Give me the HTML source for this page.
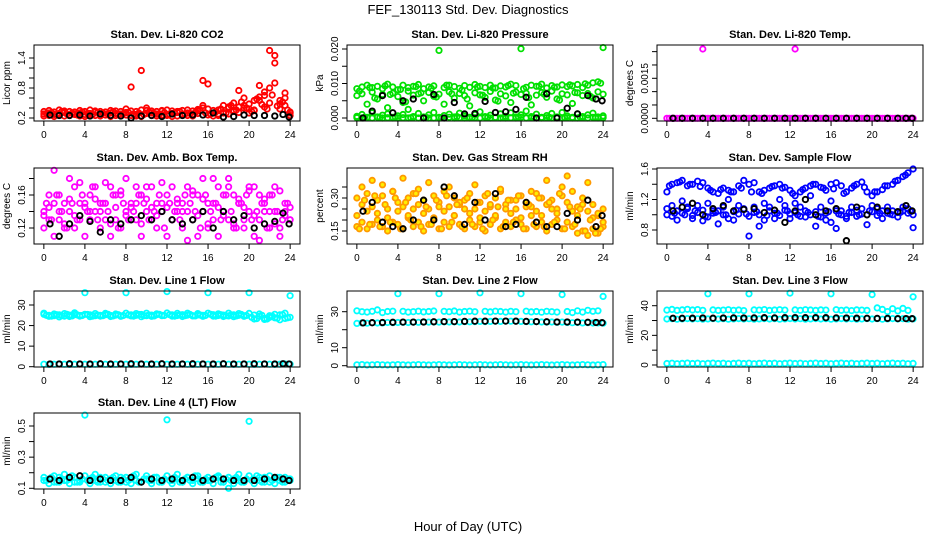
<!DOCTYPE html>
<html><head><meta charset="utf-8">
<style>
html,body{margin:0;padding:0;background:#fff;}
svg{display:block;font-family:"Liberation Sans",sans-serif;}
</style></head>
<body>
<svg id="chart" width="936" height="540" viewBox="0 0 936 540">
<text x="468" y="14" text-anchor="middle" font-size="13">FEF_130113  Std. Dev. Diagnostics</text>
<text x="468" y="531" text-anchor="middle" font-size="13">Hour of Day (UTC)</text>
</svg>
<script>
// ---- data ----
const hours = [0,0.5,1,1.5,2,2.5,3,3.5,4,4.5,5,5.5,6,6.5,7,7.5,8,8.5,9,9.5,10,10.5,11,11.5,12,12.5,13,13.5,14,14.5,15,15.5,16,16.5,17,17.5,18,18.5,19,19.5,20,20.5,21,21.5,22,22.5,23,23.5,24];
const hoursB = [0.25,0.75,1.25,1.75,2.25,2.75,3.25,3.75,4.25,4.75,5.25,5.75,6.25,6.75,7.25,7.75,8.25,8.75,9.25,9.75,10.25,10.75,11.25,11.75,12.25,12.75,13.25,13.75,14.25,14.75,15.25,15.75,16.25,16.75,17.25,17.75,18.25,18.75,19.25,19.75,20.25,20.75,21.25,21.75,22.25,22.75,23.25,23.75];
const blackHours = [0.6,1.5,2.5,3.5,4.5,5.5,6.5,7.5,8.5,9.5,10.5,11.5,12.5,13.5,14.5,15.5,16.5,17.5,18.5,19.5,20.5,21.5,22.5,23.3,23.9];
const xTicks = [0,4,8,12,16,20,24];

const co2A = [0.28,0.30,0.27,0.29,0.31,0.26,0.28,0.30,0.27,0.29,0.32,0.28,0.26,0.30,0.29,0.28,0.31,0.82,0.27,1.15,0.29,0.30,0.28,0.34,0.27,0.29,0.31,0.28,0.30,0.27,0.29,0.95,0.88,0.30,0.28,0.31,0.42,0.33,0.75,0.45,0.38,0.36,0.55,0.72,0.50,1.30,0.48,0.60,0.32];
const co2B = [0.24,0.25,0.23,0.26,0.24,0.25,0.27,0.24,0.23,0.26,0.25,0.24,0.26,0.23,0.25,0.24,0.26,0.25,0.24,0.23,0.35,0.25,0.24,0.26,0.25,0.23,0.24,0.26,0.25,0.24,0.34,0.45,0.26,0.24,0.25,0.30,0.28,0.35,0.31,0.40,0.30,0.35,0.85,0.65,1.55,0.90,0.38,0.70,0.25];
const co2C = [0.33,0.35,0.32,0.36,0.34,0.33,0.32,0.35,0.33,0.36,0.34,0.33,0.32,0.35,0.34,0.33,0.38,0.34,0.33,0.36,0.40,0.34,0.33,0.35,0.36,0.34,0.33,0.35,0.36,0.34,0.37,0.40,0.38,0.35,0.36,0.45,0.40,0.50,0.42,0.60,0.48,0.55,0.62,0.42,0.80,1.45,0.55,0.45,0.30];
const co2D = [0.29,0.31,0.27,0.33,0.28,0.30,0.26,0.32,0.29,0.27,0.31,0.30,0.28,0.33,0.27,0.29,0.31,0.28,0.30,0.27,0.32,0.29,0.28,0.31,0.27,0.30,0.33,0.28,0.29,0.31,0.35,0.30,0.28,0.32,0.38,0.30,0.45,0.36,0.52,0.40,0.33,0.58,0.47,0.38,0.66,0.44,0.52,0.36];
const co2K = [0.26,0.25,0.25,0.26,0.24,0.28,0.25,0.24,0.20,0.24,0.25,0.23,0.28,0.25,0.26,0.26,0.30,0.22,0.23,0.26,0.25,0.25,0.24,0.27,0.22];

const presA = [0.0085,0.009,0.0095,0.0088,0.0092,0.0085,0.0098,0.009,0.0082,0.0095,0.0088,0.0092,0.0097,0.0085,0.009,0.0093,0.0196,0.0088,0.0095,0.0091,0.0086,0.0094,0.0089,0.0097,0.0092,0.0088,0.0095,0.0087,0.0093,0.009,0.0098,0.0094,0.0201,0.0089,0.0095,0.0092,0.0098,0.0087,0.0094,0.009,0.0096,0.0091,0.0093,0.0097,0.0088,0.0095,0.0102,0.0105,0.0204];
const presB = [0.0065,0.007,0.004,0.0075,0.0055,0.0068,0.003,0.0072,0.0062,0.0045,0.0078,0.0066,0.007,0.005,0.0074,0.0063,0.0069,0.004,0.0076,0.0058,0.0071,0.0065,0.0035,0.0073,0.0067,0.006,0.0077,0.0052,0.007,0.0064,0.0045,0.0075,0.0068,0.0072,0.0038,0.0066,0.0074,0.006,0.0078,0.0055,0.007,0.0067,0.0042,0.0073,0.0065,0.0071,0.0058,0.0076,0.0069];
const presC = [0.0005,0.001,0.0002,0.0015,0.0003,0.0008,0.0012,0.0002,0.0006,0.001,0.0025,0.0004,0.0013,0.0003,0.0009,0.0016,0.0002,0.0007,0.0011,0.0003,0.0014,0.0006,0.0002,0.001,0.0018,0.0004,0.0008,0.0002,0.0012,0.0005,0.0015,0.0003,0.0009,0.002,0.0004,0.0011,0.0002,0.0007,0.0013,0.0003,0.0016,0.0006,0.0002,0.0012,0.0004,0.0009,0.0014,0.0003,0.0006];
const presD = [0.0001,0,0.0001,0,0.0002,0,0.0001,0,0,0.0001,0,0.0002,0,0.0001,0,0,0.0001,0,0.0002,0,0.0001,0,0,0.0001,0,0.0002,0,0.0001,0,0,0.0001,0,0.0002,0,0.0001,0,0,0.0001,0,0.0002,0,0.0001,0,0,0.0001,0,0.0002,0,0.0001];
const presE = [0.0078,0.0002,0.0088,0.0058,0.0001,0.0093,0.0068,0.0003,0.0083,0.0047,0.0001,0.0091,0.0073,0.0002,0.0086,0.0061,0.0001,0.0095,0.0070,0.0004,0.0081,0.0055,0.0001,0.0090,0.0066,0.0002,0.0087,0.0049,0.0001,0.0094,0.0072,0.0003,0.0085,0.0059,0.0001,0.0092,0.0069,0.0002,0.0089,0.0052,0.0001,0.0096,0.0074,0.0003,0.0099,0.0063,0.0001,0.0101];
const presK = [0,0.002,0.0065,0.0015,0.005,0.0055,0,0.0068,0,0.0045,0.0012,0.0013,0.0048,0.0016,0.0018,0.0025,0.006,0,0.007,0,0.0028,0.0012,0.0065,0.0055,0.005];

const tempA = [0,0,0,0,0,0,0,0.0026,0,0,0,0,0,0,0,0,0,0,0,0,0,0,0,0,0,0.0026,0,0,0,0,0,0,0,0,0,0,0,0,0,0,0,0,0,0,0,0,0,0,0];
const tempB = [0,0,0,0,0,0,0,0,0,0,0,0,0,0,0,0,0,0,0,0,0,0,0,0,0,0,0,0,0,0,0,0,0,0,0,0,0,0,0,0,0,0,0,0,0,0,0,0];
const tempK = [0,0,0,0,0,0,0,0,0,0,0,0,0,0,0,0,0,0,0,0,0,0,0,0,0];

const ambA = [0.14,0.13,0.15,0.16,0.12,0.14,0.17,0.13,0.15,0.16,0.14,0.12,0.15,0.17,0.13,0.16,0.14,0.15,0.13,0.16,0.14,0.17,0.12,0.15,0.16,0.13,0.14,0.15,0.17,0.13,0.16,0.14,0.12,0.15,0.17,0.14,0.13,0.16,0.15,0.12,0.14,0.17,0.13,0.15,0.16,0.14,0.12,0.15,0.13];
const ambB = [0.12,0.16,0.11,0.13,0.15,0.18,0.12,0.15,0.11,0.14,0.17,0.15,0.13,0.11,0.16,0.12,0.18,0.13,0.15,0.11,0.17,0.13,0.15,0.14,0.11,0.17,0.15,0.12,0.14,0.16,0.11,0.18,0.15,0.13,0.11,0.16,0.18,0.12,0.15,0.13,0.17,0.11,0.16,0.14,0.12,0.17,0.11,0.14,0.13];
const ambC = [0.135,0.145,0.19,0.14,0.125,0.155,0.135,0.175,0.145,0.13,0.155,0.14,0.175,0.125,0.145,0.165,0.135,0.145,0.17,0.125,0.155,0.145,0.135,0.175,0.145,0.13,0.155,0.14,0.105,0.165,0.135,0.155,0.125,0.18,0.145,0.135,0.17,0.125,0.155,0.145,0.165,0.135,0.105,0.155,0.14,0.125,0.165,0.135,0.145];
const ambD = [0.15,0.13,0.16,0.14,0.12,0.15,0.13,0.16,0.14,0.17,0.13,0.15,0.14,0.16,0.12,0.15,0.13,0.14,0.16,0.15,0.13,0.14,0.16,0.12,0.15,0.14,0.13,0.16,0.15,0.14,0.12,0.16,0.14,0.15,0.13,0.16,0.14,0.12,0.15,0.16,0.13,0.14,0.15,0.12,0.16,0.14,0.13,0.15];
const ambK = [0.125,0.11,0.125,0.135,0.128,0.115,0.13,0.125,0.13,0.135,0.13,0.14,0.13,0.125,0.13,0.14,0.12,0.14,0.13,0.135,0.12,0.125,0.128,0.138,0.125];

const rhA = [0.17,0.19,0.16,0.18,0.2,0.17,0.15,0.19,0.18,0.16,0.21,0.17,0.19,0.15,0.18,0.2,0.16,0.19,0.17,0.22,0.18,0.16,0.2,0.17,0.19,0.15,0.18,0.21,0.16,0.19,0.17,0.2,0.18,0.16,0.22,0.17,0.19,0.15,0.18,0.2,0.16,0.19,0.17,0.14,0.15,0.13,0.16,0.14,0.17];
const rhB = [0.3,0.27,0.32,0.26,0.29,0.31,0.25,0.33,0.28,0.26,0.3,0.32,0.27,0.29,0.25,0.31,0.28,0.33,0.26,0.3,0.27,0.29,0.32,0.25,0.28,0.31,0.26,0.3,0.33,0.27,0.29,0.25,0.31,0.28,0.26,0.32,0.3,0.27,0.29,0.25,0.31,0.28,0.33,0.26,0.3,0.24,0.27,0.22,0.25];
const rhC = [0.22,0.35,0.24,0.38,0.23,0.36,0.21,0.33,0.24,0.39,0.22,0.25,0.34,0.23,0.37,0.21,0.26,0.24,0.35,0.22,0.28,0.25,0.23,0.36,0.21,0.24,0.27,0.22,0.34,0.25,0.23,0.29,0.21,0.26,0.33,0.24,0.22,0.38,0.25,0.23,0.35,0.4,0.24,0.22,0.27,0.37,0.21,0.23,0.19];
const rhD = [0.16,0.29,0.18,0.31,0.17,0.27,0.19,0.3,0.16,0.28,0.2,0.32,0.17,0.26,0.18,0.29,0.16,0.31,0.19,0.27,0.17,0.3,0.18,0.28,0.16,0.32,0.2,0.26,0.17,0.29,0.19,0.31,0.16,0.27,0.18,0.3,0.17,0.28,0.19,0.32,0.16,0.26,0.18,0.25,0.15,0.2,0.14,0.16];
const rhK = [0.24,0.28,0.19,0.17,0.16,0.2,0.29,0.2,0.35,0.31,0.18,0.28,0.2,0.32,0.17,0.18,0.28,0.19,0.17,0.17,0.23,0.2,0.29,0.17,0.22];

const sfA = [1.3,1.4,1.42,1.45,1.38,1.4,1.44,1.42,1.35,1.3,1.28,1.35,1.32,1.3,1.38,1.45,1.4,1.42,1.3,1.32,1.35,1.38,1.4,1.36,1.32,1.25,1.3,1.35,1.38,1.4,1.36,1.32,1.4,1.42,1.38,1.3,1.35,1.4,1.43,1.3,1.25,1.3,1.33,1.38,1.4,1.45,1.5,1.55,1.6];
const sfB = [1.0,0.98,1.05,1.02,1.08,0.99,1.03,1.06,0.97,1.02,1.05,1.0,0.95,1.04,1.01,1.07,0.98,1.03,1.0,0.93,1.05,1.02,0.99,1.06,1.01,1.03,0.98,1.05,1.0,1.04,0.97,1.02,0.9,1.05,1.0,0.98,1.03,1.06,1.01,1.0,1.04,0.99,1.05,1.02,1.0,1.03,1.05,1.02,1.0];
const sfC = [1.08,1.12,0.93,1.18,1.1,0.95,1.12,0.92,1.15,1.05,0.88,1.1,1.2,0.93,1.12,1.08,0.72,1.1,0.85,1.15,1.1,0.95,1.2,1.12,0.95,1.15,1.1,0.97,1.25,0.85,1.1,0.93,1.18,0.82,1.05,0.95,1.1,0.98,1.08,0.87,1.12,1.08,0.95,1.1,1.05,0.97,1.1,1.08,0.83];
const sfD = [1.38,1.02,1.43,1.0,1.4,1.05,1.37,0.98,1.32,1.03,1.33,1.0,1.3,1.06,1.35,1.01,1.3,1.04,1.28,0.99,1.37,1.02,1.35,1.05,1.28,1.0,1.33,1.03,1.4,0.98,1.35,1.04,1.34,1.01,1.28,1.03,1.38,1.0,1.36,1.05,1.3,1.02,1.38,1.01,1.44,1.03,1.52,1.04];
const sfK = [1.05,1.1,1.15,1.0,1.08,1.12,1.05,1.07,1.08,1.03,1.06,0.9,1.05,1.2,1.0,1.05,1.08,0.66,1.1,1.0,1.1,1.05,1.04,1.12,1.05];

const l1A = [25.5,25,24.8,25.2,24.6,25.1,25.4,24.9,36,25.2,24.8,25,25.3,24.9,25.1,24.7,36,25.2,25,25.4,24.8,25.1,25.3,25,36.5,25.2,24.9,25.3,25.1,24.8,25.2,25,36,25.3,24.9,25.1,24.7,25.2,25,24.8,36,25.1,24.5,23.5,24.8,23.8,25.2,23.5,34.5];
const l1B = [26,24.5,25.6,24.2,25.8,24.4,26.2,24.6,25.5,24.3,25.8,24.6,25.9,24.4,25.6,24.5,26,24.7,25.8,24.3,26,24.5,25.7,24.8,26.1,24.6,25.9,24.4,26,24.7,25.8,24.5,26,24.6,25.7,24.4,26,24.3,25.8,24.5,25.9,23.2,25.6,23,24,25.5,22.8,26,24];
const l1C = [25,24.6,25.3,24.8,25.5,24.7,25.2,24.9,25.4,24.6,25.1,24.8,25.5,24.7,25.3,24.9,25.2,24.6,25.4,24.8,25.1,24.7,25.5,24.9,25.3,24.6,25.2,24.8,25.4,24.7,25.1,24.9,25.5,24.6,25.3,24.8,25.2,24.7,25.4,24.9,24,23.4,25,23.2,24.6,23.6,25.3,23.8];
const l1Z = [1.2,1.1,1.2,1.3,1.2,1.1,1.2,1.3,1.2,1.1,1.2,1.3,1.2,1.1,1.2,1.3,1.2,1.1,1.2,1.3,1.2,1.1,1.2,1.3,1.2,1.1,1.2,1.3,1.2,1.1,1.2,1.3,1.2,1.1,1.2,1.3,1.2,1.1,1.2,1.3,1.2,1.1,1.2,1.3,1.2,1.1,1.2,1.3,1.2];
const l1K = [1.3,1.3,1.4,1.3,1.3,1.4,1.3,1.3,1.4,1.3,1.3,1.4,1.3,1.3,1.4,1.3,1.3,1.4,1.3,1.3,1.4,1.3,1.3,1.4,1.3];

const l2A = [30.5,30,29.8,30.2,31,29.5,30.1,30.3,40,30.2,29.8,30,30.3,29.9,30.1,30.4,40,30.2,30,30.4,29.8,30.1,30.3,30,40.5,30.2,29.9,30.3,30.1,29.8,30.2,30,40,30.3,29.9,30.1,29.7,30.2,30,29.8,39.5,30.1,29.5,30.5,29.8,30.8,30.2,30.5,38.5];
const l2B = [23.5,23.8,23.6,23.9,23.7,23.8,24,23.9,24,24.1,24,24.2,24.1,24.3,24.2,24.3,24.2,24.4,24.3,24.4,24.3,24.5,24.4,24.5,24.6,24.5,24.6,24.7,24.6,24.8,24.7,24.8,24.6,24.5,24.4,24.5,24.3,24.2,24.3,24.1,24.2,24,23.9,24,23.8,23.9,23.7,23.8,23.6];
const l2Z = [0.5,0.6,0.4,0.5,0.6,0.5,0.4,0.5,0.6,0.5,0.4,0.5,0.6,0.5,0.4,0.5,0.6,0.5,0.4,0.5,0.6,0.5,0.4,0.5,0.6,0.5,0.4,0.5,0.6,0.5,0.4,0.5,0.6,0.5,0.4,0.5,0.6,0.5,0.4,0.5,0.6,0.5,0.4,0.5,0.6,0.5,0.4,0.5,0.6];
const l2K = [23.8,23.9,24,24.1,24.2,24.2,24.3,24.4,24.5,24.5,24.6,24.7,24.7,24.8,24.8,24.7,24.6,24.5,24.4,24.3,24.3,24.2,24.1,24,23.9];

const l3A = [37,37.5,36.8,37.2,37.6,37.1,37.4,36.9,48,37.2,36.8,37,37.3,36.9,37.1,36.7,48,37.2,37,37.4,36.8,37.1,37.3,37,48.5,37.2,36.9,37.3,37.1,36.8,37.2,37,48,37.3,36.9,37.1,36.7,37.2,37,36.8,47.5,38.5,37.5,36,38,36.5,38.2,36.8,46];
const l3B = [31,31.2,30.9,31.1,31.3,31,31.2,30.9,31.1,31.3,31,31.2,30.9,31.1,31.3,31,31.2,30.9,31.1,31.3,31,31.2,30.9,31.1,31.3,31,31.2,30.9,31.1,31.3,31,31.2,30.9,31.1,31.3,31,31.2,30.9,31.1,31.3,31,31.2,30.9,31.1,31.3,31,31.2,30.9,31.1];
const l3Z = [1,1.2,0.9,1.1,1.3,1,1.2,0.9,1.1,1.3,1,1.2,0.9,1.1,1.3,1,1.2,0.9,1.1,1.3,1,1.2,0.9,1.1,1.3,1,1.2,0.9,1.1,1.3,1,1.2,0.9,1.1,1.3,1,1.2,0.9,1.1,1.3,1,1.2,0.9,1.1,1.3,1,1.2,0.9,1.1];
const l3K = [31.5,31.5,31.6,31.7,31.6,31.7,31.8,31.7,31.8,31.9,31.8,31.9,32,31.9,32,31.9,31.8,31.7,31.6,31.5,31.4,31.4,31.3,31.3,31.2];

const l4A = [0.15,0.16,0.14,0.17,0.15,0.16,0.14,0.15,0.57,0.16,0.15,0.17,0.14,0.16,0.15,0.17,0.14,0.16,0.15,0.14,0.16,0.15,0.17,0.14,0.54,0.15,0.16,0.14,0.17,0.15,0.16,0.14,0.15,0.16,0.17,0.14,0.1,0.16,0.15,0.14,0.53,0.16,0.15,0.17,0.14,0.16,0.15,0.17,0.15];
const l4B = [0.17,0.13,0.18,0.14,0.19,0.13,0.17,0.14,0.18,0.13,0.19,0.14,0.17,0.13,0.18,0.14,0.17,0.13,0.19,0.14,0.18,0.13,0.17,0.14,0.18,0.13,0.19,0.14,0.17,0.13,0.18,0.14,0.17,0.13,0.18,0.14,0.17,0.13,0.19,0.14,0.18,0.13,0.17,0.14,0.18,0.13,0.17,0.14,0.16];
const l4C = [0.15,0.17,0.14,0.16,0.15,0.18,0.14,0.16,0.15,0.17,0.14,0.16,0.15,0.17,0.14,0.16,0.15,0.18,0.14,0.16,0.15,0.17,0.14,0.16,0.15,0.17,0.14,0.16,0.15,0.18,0.14,0.16,0.15,0.17,0.14,0.16,0.15,0.17,0.14,0.16,0.15,0.18,0.14,0.16,0.15,0.17,0.14,0.16];
const l4K = [0.16,0.15,0.17,0.18,0.15,0.16,0.15,0.15,0.17,0.14,0.16,0.15,0.16,0.15,0.17,0.15,0.16,0.16,0.15,0.15,0.15,0.16,0.17,0.16,0.15];

// ---- layout ----
const NS = 'http://www.w3.org/2000/svg';
const svg = document.getElementById('chart');
function mk(tag, attrs, parent) {
  const e = document.createElementNS(NS, tag);
  for (const k in attrs) e.setAttribute(k, attrs[k]);
  (parent || svg).appendChild(e);
  return e;
}
const BW = 266, BH = 76;
const panels = [
  {id:'co2', title:'Stan. Dev. Li-820 CO2', ylab:'Licor ppm', L:34, T:45, d:[0.2,1.4], p:[118,58], ticks:[0.2,0.4,0.6,0.8,1.0,1.2,1.4], labels:{'0.2':'0.2','0.8':'0.8','1.4':'1.4'}, col:'#ff0000', fill:'none', series:[co2A,co2B,co2C,co2D], black:co2K},
  {id:'pressure', title:'Stan. Dev. Li-820 Pressure', ylab:'kPa', L:347, T:45, d:[0,0.02], p:[118,49], ticks:[0,0.005,0.01,0.015,0.02], labels:{'0':'0.000','0.01':'0.010','0.02':'0.020'}, col:'#00e000', fill:'none', series:[presA,presB,presC,presD,presE], black:presK},
  {id:'temp', title:'Stan. Dev. Li-820 Temp.', ylab:'degrees C', L:657, T:45, d:[0,0.0015], p:[118.3,78.3], ticks:[0,0.0005,0.001,0.0015,0.002,0.0025], labels:{'0':'0.0000','0.0015':'0.0015'}, col:'#ff00ff', fill:'none', series:[tempA,tempB], black:tempK},
  {id:'amb-temp', title:'Stan. Dev. Amb. Box Temp.', ylab:'degrees C', L:34, T:168, d:[0.12,0.16], p:[228,195], ticks:[0.12,0.14,0.16,0.18], labels:{'0.12':'0.12','0.16':'0.16'}, col:'#ff00ff', fill:'none', series:[ambA,ambB,ambC,ambD], black:ambK},
  {id:'rh', title:'Stan. Dev. Gas Stream RH', ylab:'percent', L:347, T:168, d:[0.15,0.30], p:[231,198], ticks:[0.15,0.2,0.25,0.3,0.35], labels:{'0.15':'0.15','0.3':'0.30'}, col:'#ff9900', fill:'#ffee00', series:[rhA,rhB,rhC,rhD], black:rhK},
  {id:'sample-flow', title:'Stan. Dev. Sample Flow', ylab:'ml/min', L:657, T:168, d:[0.8,1.6], p:[230,169], ticks:[0.8,1.0,1.2,1.4,1.6], labels:{'0.8':'0.8','1.2':'1.2','1.6':'1.6'}, col:'#0000ff', fill:'none', series:[sfA,sfB,sfC,sfD], black:sfK},
  {id:'line1', title:'Stan. Dev. Line 1 Flow', ylab:'ml/min', L:34, T:291, d:[0,30], p:[366.7,305], ticks:[0,10,20,30], labels:{'0':'0','10':'10','20':'20','30':'30'}, col:'#00ffff', fill:'none', series:[l1A,l1B,l1C,l1Z], black:l1K},
  {id:'line2', title:'Stan. Dev. Line 2 Flow', ylab:'ml/min', L:347, T:291, d:[0,30], p:[365.7,311.7], ticks:[0,10,20,30], labels:{'0':'0','10':'10','30':'30'}, col:'#00ffff', fill:'none', series:[l2A,l2B,l2Z], black:l2K},
  {id:'line3', title:'Stan. Dev. Line 3 Flow', ylab:'ml/min', L:657, T:291, d:[0,40], p:[365,305.7], ticks:[0,10,20,30,40], labels:{'0':'0','20':'20','40':'40'}, col:'#00ffff', fill:'none', series:[l3A,l3B,l3Z], black:l3K},
  {id:'line4', title:'Stan. Dev. Line 4 (LT) Flow', ylab:'ml/min', L:34, T:413, d:[0.1,0.5], p:[488.3,426], ticks:[0.1,0.2,0.3,0.4,0.5], labels:{'0.1':'0.1','0.3':'0.3','0.5':'0.5'}, col:'#00ffff', fill:'none', series:[l4A,l4B,l4C], black:l4K}
];

panels.forEach(P => {
  const g = mk('g', {});
  
  
  const xs = h => P.L + BW * (h + 0.96) / 25.92;
  const ys = v => P.p[0] + (v - P.d[0]) * (P.p[1] - P.p[0]) / (P.d[1] - P.d[0]);
  const B = P.T + BH;
  const t = mk('text', {x: P.L + BW/2, y: P.T - 7, 'text-anchor':'middle', 'font-size':11, 'font-weight':'bold'}, g);
  t.textContent = P.title;
  
  
  const pg = mk('g', {}, g);
  
  
  P.series.forEach(arr => {
    const hx = arr.length === hours.length ? hours : hoursB;
    arr.forEach((v, i) => {
      const c = mk('circle', {cx: xs(hx[i]).toFixed(1), cy: ys(v).toFixed(1), r: 2.7, fill: P.fill, stroke: P.col, 'stroke-width': 1.8}, pg);
      
      
    });
  });
  P.black.forEach((v, i) => {
    const c = mk('circle', {cx: xs(blackHours[i]).toFixed(1), cy: ys(v).toFixed(1), r: 2.7, fill: 'none', stroke: '#000', 'stroke-width': 1.9}, pg);
    
    
  });
  const box = mk('rect', {x: P.L, y: P.T, width: BW, height: BH, fill: 'none', stroke: '#000', 'stroke-width': 1}, g);
  
  
  const xa = mk('g', {}, g);
  
  
  mk('line', {x1: xs(0), x2: xs(24), y1: B, y2: B, stroke: '#000'}, xa);
  xTicks.forEach(h => {
    mk('line', {x1: xs(h), x2: xs(h), y1: B, y2: B + 5, stroke: '#000'}, xa);
    const tl = mk('text', {x: xs(h), y: B + 17, 'text-anchor':'middle', 'font-size':10}, xa);
    tl.textContent = h;
    
    
  });
  const ya = mk('g', {}, g);
  
  
  const tmin = P.ticks[0], tmax = P.ticks[P.ticks.length-1];
  mk('line', {x1: P.L, x2: P.L, y1: Math.min(ys(tmin), B), y2: Math.max(ys(tmax), P.T), stroke: '#000'}, ya);
  P.ticks.forEach(v => {
    const y = ys(v);
    if (y < P.T - 0.5 || y > B + 0.5) return;
    mk('line', {x1: P.L - 5, x2: P.L, y1: y, y2: y, stroke: '#000'}, ya);
    const key = String(v);
    if (P.labels[key] !== undefined) {
      const tl = mk('text', {x: P.L - 9, y: y, 'text-anchor':'middle', 'font-size':10, transform: `rotate(-90 ${P.L - 9} ${y})`}, ya);
      tl.textContent = P.labels[key];
      
      
    }
  });
  const yl = mk('text', {x: P.L - 24, y: P.T + BH/2, 'text-anchor':'middle', 'font-size':10, transform: `rotate(-90 ${P.L - 24} ${P.T + BH/2})`}, g);
  yl.textContent = P.ylab;
  
  
});
</script>
</body></html>
